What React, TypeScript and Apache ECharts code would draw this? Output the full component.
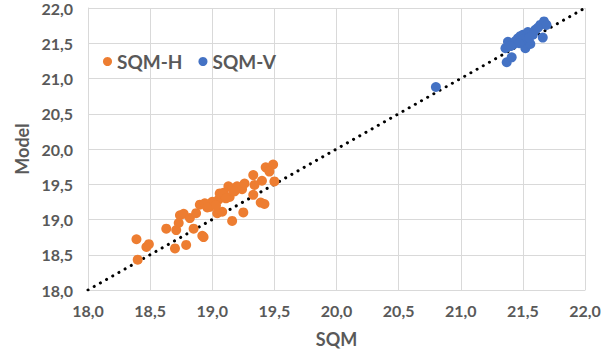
import React, { useEffect, useRef } from "react";
import * as echarts from "echarts";

const sqmH_x = [18.39, 18.4, 18.47, 18.49, 18.63, 18.7, 18.71, 18.73, 18.74, 18.77, 18.79, 18.82, 18.87, 18.85, 18.92, 18.93, 18.9, 18.94, 18.98, 19.01, 19.05, 19.0, 19.06, 19.09, 19.04, 19.08, 19.13, 19.16, 19.14, 19.16, 19.2, 19.24, 19.26, 19.25, 19.33, 19.33, 19.34, 19.4, 19.39, 19.42, 19.43, 19.49, 19.46, 19.5, 18.96, 19.11, 19.18, 19.03];
const sqmH_y = [18.72, 18.43, 18.61, 18.65, 18.87, 18.59, 18.85, 18.95, 19.06, 19.08, 18.64, 19.02, 19.09, 18.87, 18.77, 18.75, 19.21, 19.23, 19.18, 19.23, 19.28, 19.25, 19.37, 19.38, 19.09, 19.11, 19.47, 19.44, 19.32, 18.98, 19.47, 19.43, 19.51, 19.1, 19.63, 19.35, 19.49, 19.55, 19.24, 19.22, 19.74, 19.78, 19.68, 19.54, 19.17, 19.3, 19.4, 19.2];
const sqmV_x = [20.8, 21.37, 21.41, 21.36, 21.38, 21.42, 21.46, 21.5, 21.52, 21.56, 21.54, 21.6, 21.64, 21.67, 21.66, 21.69, 21.48, 21.44, 21.58, 21.62, 21.5, 21.47, 21.4, 21.55];
const sqmV_y = [20.88, 21.23, 21.3, 21.43, 21.52, 21.48, 21.57, 21.62, 21.43, 21.49, 21.66, 21.69, 21.76, 21.81, 21.58, 21.76, 21.6, 21.53, 21.62, 21.72, 21.55, 21.5, 21.46, 21.58];
const lineX = [18, 22];
const lineY = [18, 22];

const FONT = "Lato";
const GREY = "#595959";

export default function App() {
  const ref = useRef<HTMLDivElement>(null);
  useEffect(() => {
    const chart = echarts.init(ref.current!, null, { renderer: "svg" });
    const fmt = (v: number) => v.toFixed(1).replace(".", ",");
    const axisCommon = {
      type: "value",
      min: 18,
      max: 22,
      interval: 0.5,
      axisLine: { show: true, lineStyle: { color: "#d9d9d9", width: 1 } },
      axisTick: { show: false },
      splitLine: { show: true, lineStyle: { color: "#d9d9d9", width: 1 } },
      nameLocation: "middle",
      nameTextStyle: { fontFamily: FONT, fontWeight: "bold", fontSize: 18, color: GREY },
    };
    chart.setOption({
      animation: false,
      backgroundColor: "#ffffff",
      textStyle: { fontFamily: FONT },
      grid: { left: 88, right: 30, top: 8, bottom: 66 },
      legend: {
        left: 98,
        top: 47,
        itemGap: 16,
        itemWidth: 9,
        itemHeight: 9,
        data: [
          { name: "SQM-H", icon: "circle" },
          { name: "SQM-V", icon: "circle" },
        ],
        textStyle: { fontFamily: FONT, fontWeight: "bold", fontSize: 19, color: GREY },
      },
      xAxis: {
        ...axisCommon,
        name: "SQM",
        nameGap: 40,
        axisLabel: { formatter: fmt, fontFamily: FONT, fontWeight: "bold", fontSize: 16, color: GREY, margin: 12 },
      },
      yAxis: {
        ...axisCommon,
        name: "Model",
        nameGap: 54,
        axisLabel: { formatter: fmt, fontFamily: FONT, fontWeight: "bold", fontSize: 16, color: GREY, margin: 15 },
      },
      series: [
        {
          name: "diag",
          type: "line",
          data: lineX.map((x, i) => [x, lineY[i]]),
          symbol: "none",
          silent: true,
          lineStyle: { color: "#000000", width: 3, type: [0.1, 7], cap: "round" },
          z: 1,
        },
        {
          name: "SQM-H",
          type: "scatter",
          data: sqmH_x.map((x, i) => [x, sqmH_y[i]]),
          symbolSize: 10,
          itemStyle: { color: "#ED7D31", opacity: 1 },
          z: 3,
        },
        {
          name: "SQM-V",
          type: "scatter",
          data: sqmV_x.map((x, i) => [x, sqmV_y[i]]),
          symbolSize: 10,
          itemStyle: { color: "#4472C4", opacity: 1 },
          z: 3,
        },
      ],
    });
    return () => chart.dispose();
  }, []);
  return <div ref={ref} style={{ width: 615, height: 356, position: "absolute", left: 0, top: 0 }} />;
}
